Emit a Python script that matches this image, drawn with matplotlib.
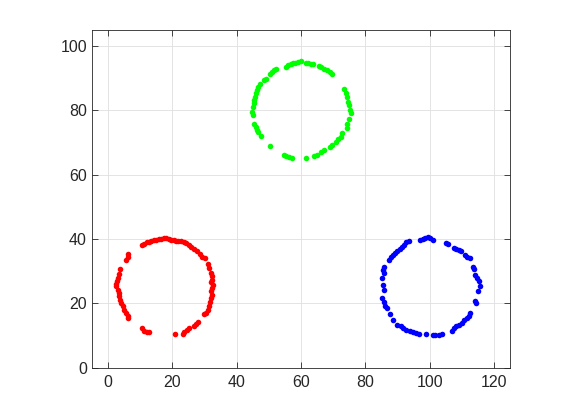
import numpy as np
import matplotlib
matplotlib.use("Agg")
import matplotlib.pyplot as plt

# ring points (x, y)
red_x = [10.5, 11.3, 12.0, 12.7, 13.5, 14.4, 15.1, 15.8, 16.6, 17.4, 18.2, 18.9, 19.7, 20.5, 21.2,
         21.9, 22.8, 23.6, 24.3, 25.1, 25.8, 26.9, 27.7, 28.7, 29.4, 30.2, 31.0, 31.5, 32.0, 32.2,
         32.5, 32.0, 32.7, 32.5, 32.0, 32.5, 32.0, 31.7, 31.5, 31.0, 30.5, 29.9, 27.9, 27.4, 26.7,
         25.3, 24.6, 23.8, 23.3, 21.0, 10.5, 11.3, 12.0, 12.8, 6.4, 6.1, 5.6, 5.1, 4.8, 4.1,
         3.8, 3.6, 3.3, 3.1, 2.6, 2.5, 2.8, 3.1, 3.5, 3.8, 5.6, 6.1, 6.4]
red_y = [38.1, 38.5, 39.0, 39.2, 39.4, 39.6, 39.8, 39.9, 40.0, 40.2, 40.2, 40.0, 39.8, 39.6, 39.5,
         39.4, 39.5, 39.2, 38.7, 38.1, 37.5, 36.9, 36.3, 35.4, 34.5, 34.0, 32.2, 30.9, 29.4, 28.4,
         27.3, 26.6, 25.8, 24.7, 23.7, 22.7, 21.6, 20.4, 19.1, 18.0, 17.0, 16.7, 14.2, 13.6, 12.9,
         12.2, 11.8, 11.1, 10.5, 10.5, 12.2, 11.3, 11.1, 11.1, 15.3, 16.2, 17.0, 18.0, 19.1, 20.1,
         21.1, 22.2, 23.2, 24.2, 25.3, 26.0, 27.0, 28.0, 29.1, 30.7, 33.5, 34.5, 35.3]

green_x = [55.2, 56.0, 56.8, 57.6, 58.3, 59.1, 59.9, 61.5, 62.3, 63.0, 63.8, 65.6, 66.3, 67.2, 68.2,
           69.0, 69.7, 52.1, 51.6, 50.9, 50.4, 49.0, 48.5, 47.3, 46.6, 46.2, 45.9, 45.6, 45.4, 45.4,
           45.2, 44.9, 45.1, 45.4, 45.9, 46.2, 46.6, 47.5, 50.4, 54.7, 55.5, 56.3, 57.3, 61.5, 64.2,
           65.1, 66.1, 67.2, 69.0, 69.7, 70.8, 71.5, 72.3, 72.8, 74.2, 74.4, 74.9, 75.4, 75.2, 74.9,
           74.6, 74.2, 73.9, 73.4]
green_y = [93.5, 94.0, 94.6, 94.8, 94.9, 95.1, 95.4, 94.8, 94.9, 94.6, 94.4, 93.8, 93.5, 93.0, 92.7,
           92.0, 91.5, 93.0, 92.5, 92.0, 91.5, 89.9, 89.4, 88.1, 87.3, 86.5, 85.3, 84.2, 83.2, 82.2,
           81.1, 79.6, 78.6, 75.8, 74.9, 73.9, 73.4, 72.0, 68.9, 66.2, 65.8, 65.6, 65.1, 65.1, 65.8,
           66.2, 67.2, 67.7, 68.5, 69.3, 70.3, 71.0, 71.8, 72.9, 74.7, 75.8, 77.2, 79.1, 80.1, 81.7,
           82.7, 84.2, 85.3, 86.8]

blue_x = [93.5, 92.7, 91.9, 91.4, 90.7, 89.8, 89.3, 88.6, 88.0, 87.3, 97.1, 97.9, 98.7, 99.4, 100.2,
          101.0, 105.2, 105.6, 107.5, 108.3, 109.0, 109.7, 111.1, 111.6, 112.4, 113.5, 113.9, 114.2,
          114.7, 115.2, 115.5, 114.9, 114.2, 114.5, 112.6, 112.1, 111.6, 110.8, 110.1, 109.0, 108.3,
          107.5, 106.9, 103.8, 102.8, 101.8, 101.0, 99.0, 96.6, 95.9, 94.8, 93.8, 92.7, 91.7, 91.1,
          89.8, 88.6, 87.6, 86.7, 86.2, 85.9, 85.2, 85.7, 85.5, 85.2, 85.7, 85.4, 85.8]
blue_y = [39.4, 39.0, 38.1, 37.6, 36.9, 36.3, 35.6, 35.0, 34.3, 33.5, 39.7, 40.0, 40.2, 40.7, 40.4,
          39.7, 38.7, 38.3, 37.3, 36.9, 36.6, 36.3, 35.0, 34.5, 34.0, 31.4, 30.7, 28.8,
          27.8, 26.8, 25.5, 23.9, 20.8, 20.1, 17.0, 16.2, 15.4, 14.9, 13.9, 13.3, 12.8,
          12.3, 11.5, 10.5, 10.2, 10.0, 10.2, 10.5, 10.5, 10.8, 11.1, 11.5, 11.8, 12.3, 12.8,
          13.3, 14.9, 16.7, 18.5, 19.3, 20.4, 21.8, 24.2, 25.7, 28.0, 29.4, 30.4, 31.4]

x_ticks = [0, 20, 40, 60, 80, 100, 120]
y_ticks = [0, 20, 40, 60, 80, 100]

plt.rcParams['font.family'] = ['Liberation Sans', 'DejaVu Sans']

fig = plt.figure(figsize=(5.81, 4.13), dpi=100)
ax = fig.add_axes([0.158, 0.110, 0.720, 0.817])

dark = '#262626'
ax.plot(red_x, red_y, 'o', color=(1, 0, 0), markersize=4.0, markeredgewidth=0)
ax.plot(green_x, green_y, 'o', color=(0, 1, 0), markersize=4.0, markeredgewidth=0)
ax.plot(blue_x, blue_y, 'o', color=(0, 0, 1), markersize=4.0, markeredgewidth=0)

ax.set_xlim(-5, 125)
ax.set_ylim(0, 105)
ax.set_xticks(x_ticks)
ax.set_yticks(y_ticks)
ax.grid(True, color='#dfdfdf', linewidth=0.6)
ax.set_axisbelow(True)
ax.tick_params(direction='in', length=4, width=0.6, colors=dark, labelsize=11.5,
               top=True, right=True, labelcolor=dark)
ax.tick_params(axis='x', pad=5)
for s in ax.spines.values():
    s.set_color(dark)
    s.set_linewidth(0.6)

fig.savefig('out.png', dpi=100)
